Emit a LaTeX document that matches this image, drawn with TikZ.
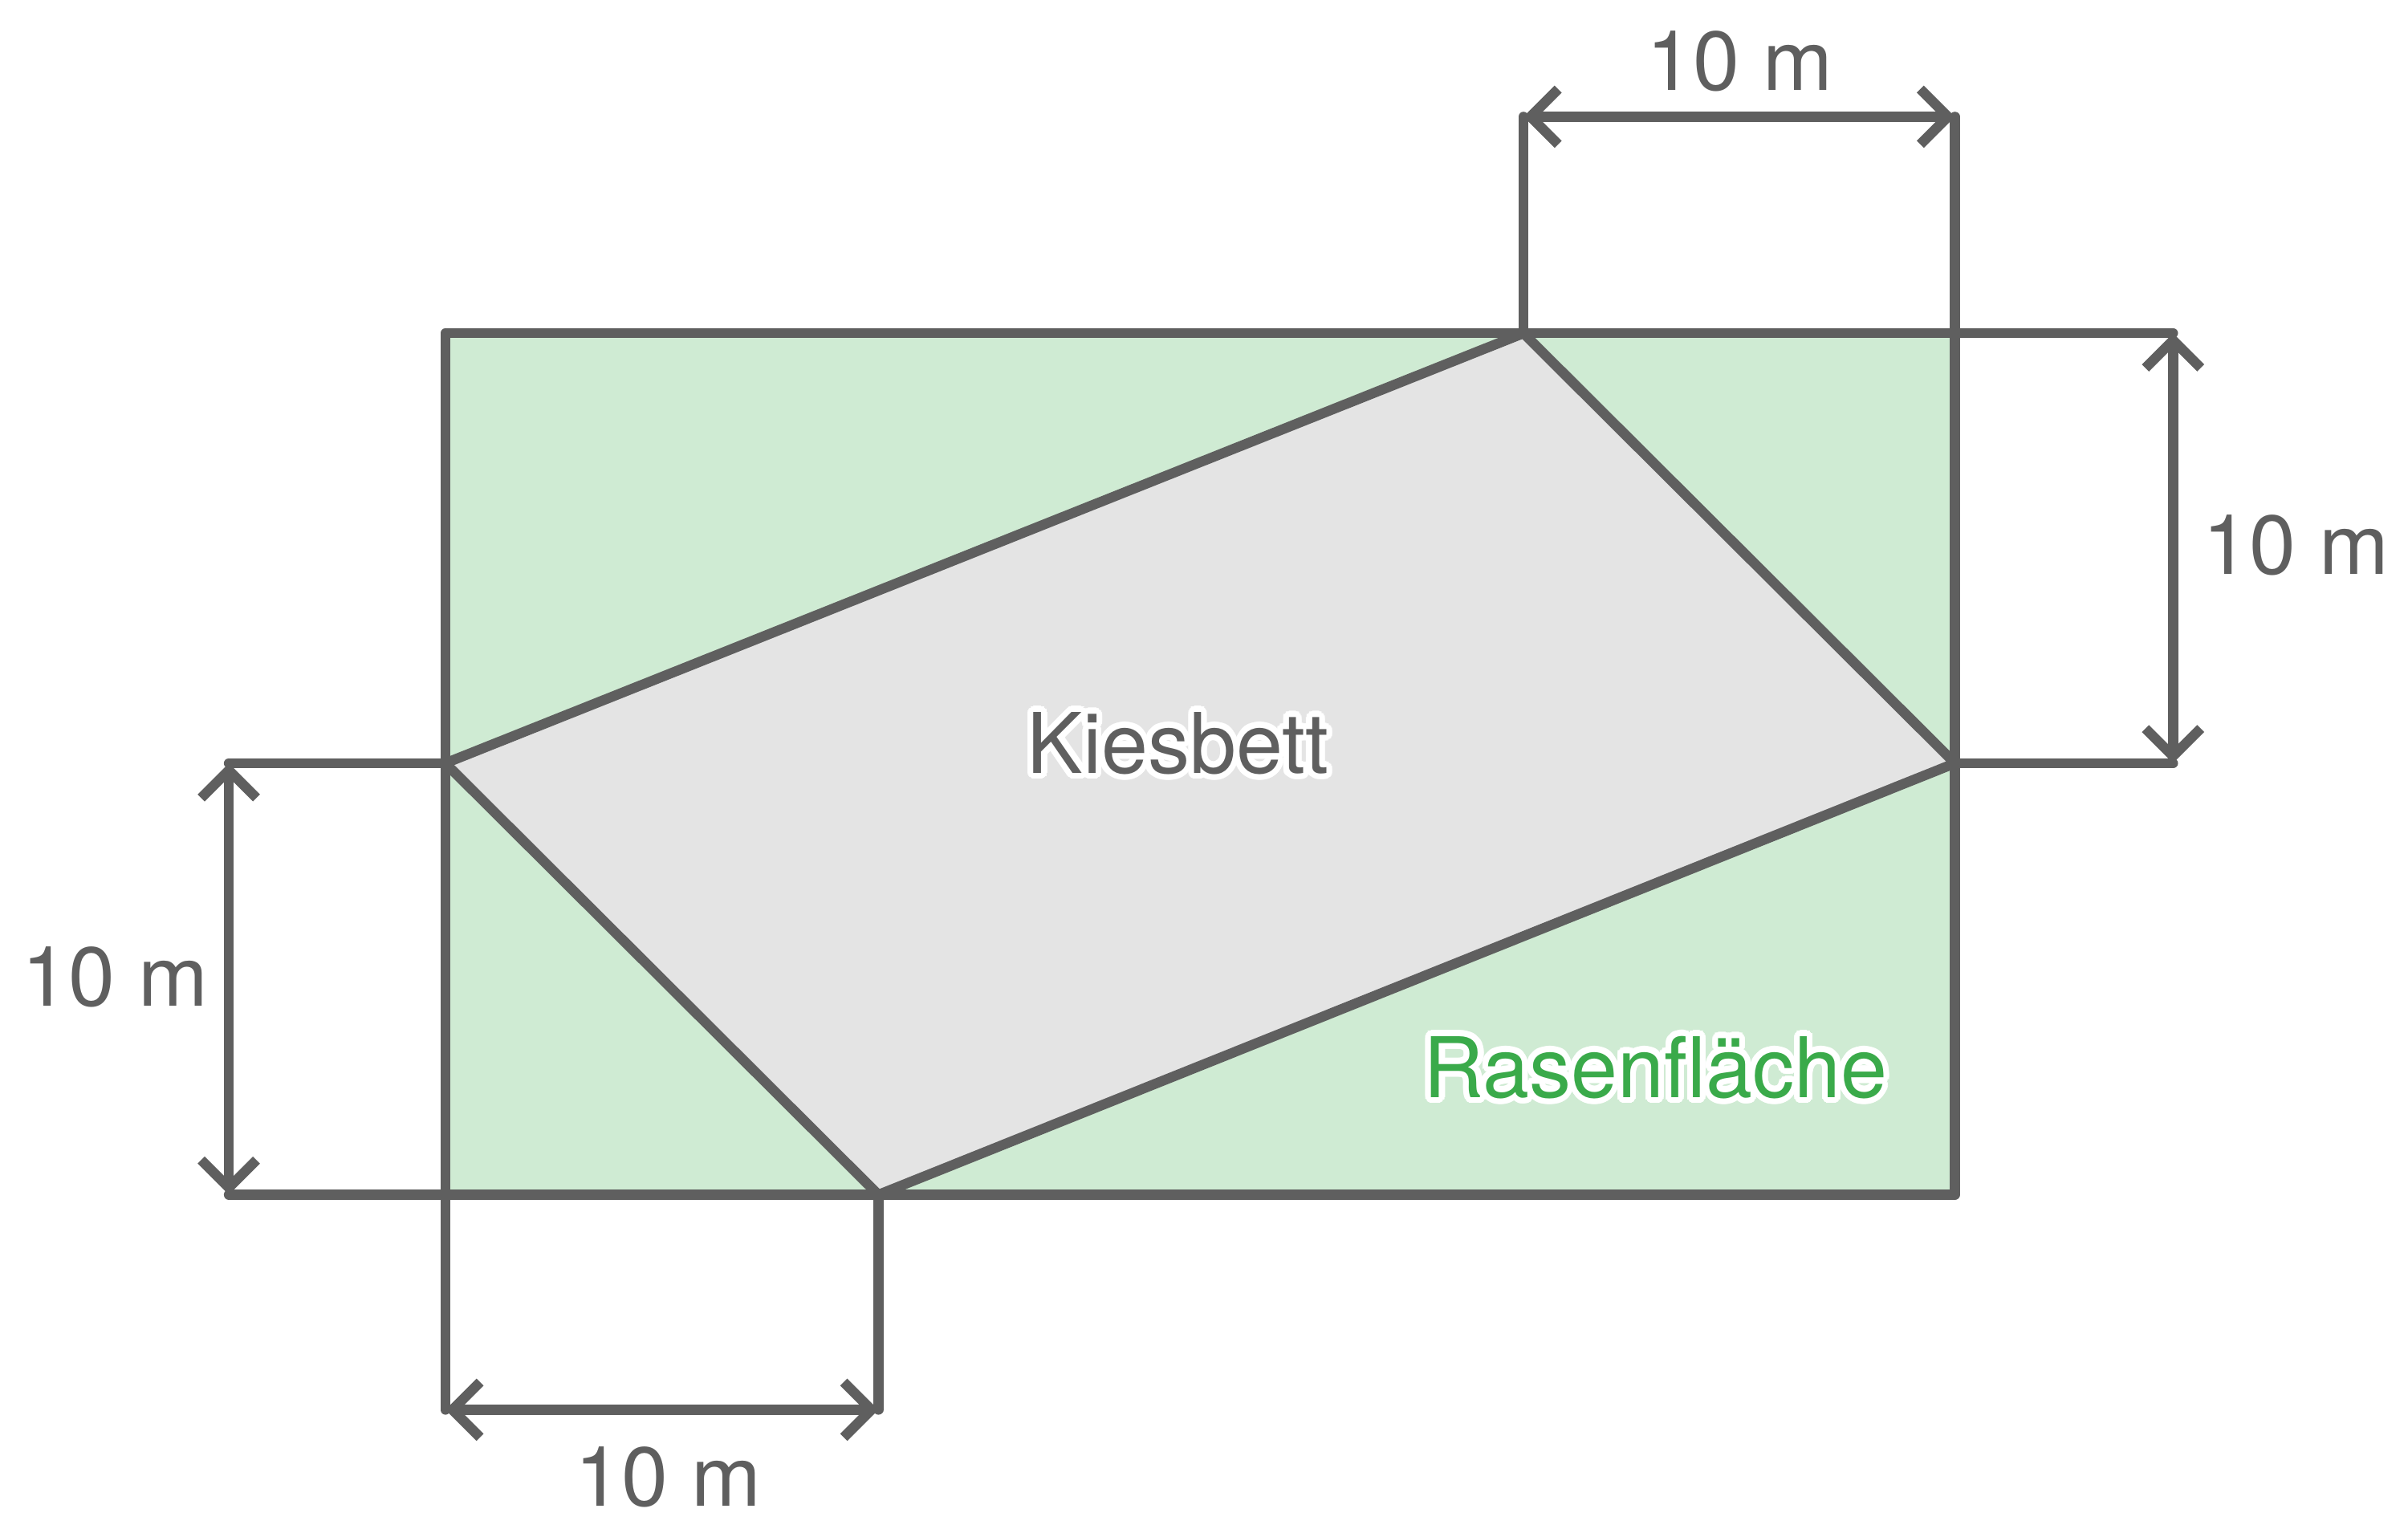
\documentclass[tikz,border=0pt]{standalone}
\usepackage{fontspec}
\setmainfont{TeX Gyre Heros}
\usepackage[copies]{contour}
\contournumber{24}
\contourlength{1.1pt}
\usetikzlibrary{arrows.meta}
\definecolor{linegray}{HTML}{5F5F5F}
\definecolor{lawn}{HTML}{CFEBD3}
\definecolor{gravel}{HTML}{E4E4E4}
\definecolor{lawntext}{HTML}{3AAA4A}
\tikzset{
    edge/.style={draw=linegray, line width=1.85pt, line cap=round, line join=round},
    dim/.style={edge, {Straight Barb[length=1.8mm, width=3.6mm]}-{Straight Barb[length=1.8mm, width=3.6mm]}},
    lbl/.style={text=linegray, font=\fontsize{15.5pt}{18pt}\selectfont}
}
\begin{document}
\begin{tikzpicture}
    \useasboundingbox (0,0) rectangle (15.68,-9.98);
    % corners
    \coordinate (tl) at (2.90,-2.17);
    \coordinate (tr) at (12.73,-2.17);
    \coordinate (br) at (12.73,-7.78);
    \coordinate (bl) at (2.90,-7.78);
    \coordinate (q1) at (9.92,-2.17);
    \coordinate (q2) at (12.73,-4.97);
    \coordinate (q3) at (5.72,-7.78);
    \coordinate (q4) at (2.90,-4.97);

    \fill[lawn] (tl) rectangle (br);
    \draw[edge, fill=gravel] (q1) -- (q2) -- (q3) -- (q4) -- cycle;
    \draw[edge] (tl) rectangle (br);

    % dimension helpers
    \coordinate (t1) at (9.92,-0.76);
    \coordinate (t2) at (12.73,-0.76);
    \coordinate (r1) at (14.15,-2.17);
    \coordinate (r2) at (14.15,-4.97);
    \coordinate (l1) at (1.49,-4.97);
    \coordinate (l2) at (1.49,-7.78);
    \coordinate (b1) at (2.90,-9.18);
    \coordinate (b2) at (5.72,-9.18);

    \draw[edge] (q1) -- (t1) (tr) -- (t2);
    \draw[edge] (tr) -- (r1) (q2) -- (r2);
    \draw[edge] (q4) -- (l1) (bl) -- (l2);
    \draw[edge] (bl) -- (b1) (q3) -- (b2);
    \draw[dim] (t1) -- (t2);
    \draw[dim] (r1) -- (r2);
    \draw[dim] (l1) -- (l2);
    \draw[dim] (b1) -- (b2);

    \node[lbl] (ltop) at (11.33,-0.40) {10 m};
    \node[lbl] (lright) at (14.95,-3.55) {10 m};
    \node[lbl] (lleft) at (0.75,-6.36) {10 m};
    \node[lbl] (lbottom) at (4.35,-9.62) {10 m};

    \node[lbl] (kies) at (7.67,-4.86) {\contour{white}{Kiesbett}};
    \node[lbl, text=lawntext] (rasen) at (10.78,-6.97) {\contour{white}{\textcolor{lawntext}{Rasenfläche}}};
\end{tikzpicture}
\end{document}
